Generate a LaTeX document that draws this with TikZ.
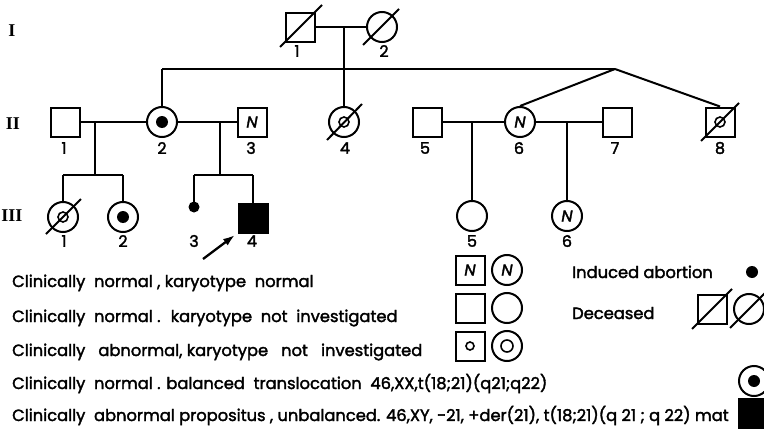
\documentclass[tikz,border=0pt]{standalone}
\usepackage{fontspec}
\setmainfont{Poppins}[FakeBold=2]
\newfontfamily\romf{Liberation Serif}
\usetikzlibrary{arrows.meta}
\begin{document}
\begin{tikzpicture}[x=1pt,y=-1pt,
  conn/.style={line width=2pt},
  sq/.style={draw, rectangle, minimum size=29pt, inner sep=0pt, line width=2pt, font=\itshape\fontsize{16}{16}\selectfont},
  ci/.style={draw, circle, minimum size=30pt, inner sep=0pt, line width=2pt, font=\itshape\fontsize{16}{16}\selectfont},
  num/.style={font=\fontsize{16}{16}\selectfont, inner sep=0pt},
  gen/.style={font=\romf\bfseries\fontsize{18}{18}\selectfont, inner sep=0pt},
  legtxt/.style={font=\fontsize{16.3}{16.3}\selectfont, anchor=base west, inner sep=0pt},
  bigdot/.style={circle, fill, minimum size=12pt, inner sep=0pt},
  smalldot/.style={circle, fill, minimum size=11pt, inner sep=0pt},
  ring/.style={circle, draw, line width=1.6pt, minimum size=10pt, inner sep=0pt},
  sring/.style={circle, draw, line width=1.6pt, minimum size=8pt, inner sep=0pt},
]
\fill[white] (0,0) rectangle (764,431);
\useasboundingbox (0,0) rectangle (764,431);

% generation labels
\node[gen] (g1) at (12,31) {I};
\node[gen] (g2) at (13,124) {II};
\node[gen] (g3) at (12,216) {III};

% generation I
\node[sq] (i1) at (300,27) {};
\node[ci] (i2) at (382,27) {};
\draw[conn] ([shift={(-20,20)}]i1.center) -- ([shift={(22,-22)}]i1.center);
\draw[conn] ([shift={(-19,18)}]i2.center) -- ([shift={(17,-18)}]i2.center);
\node[num] (i1n) at (297,51) {1};
\node[num] (i2n) at (384,51) {2};
\draw[conn] (i1.east) -- (i2.west);
\coordinate (m1) at (344,27);
\coordinate (sl) at (162,69);
\coordinate (sr) at (615,69);

% generation II
\node[sq] (ii1) at (65,122) {};
\node[ci] (ii2) at (162,122) {};
\node[bigdot] (ii2d) at (ii2.center) {};
\node[sq] (ii3) at (252,122) {N};
\node[ci] (ii4) at (344,122) {};
\node[ring] (ii4r) at (ii4.center) {};
\draw[conn] ([shift={(-17,18)}]ii4.center) -- ([shift={(18,-18)}]ii4.center);
\node[sq] (ii5) at (427,122) {};
\node[ci] (ii6) at (520,122) {N};
\node[sq] (ii7) at (617,122) {};
\node[sq] (ii8) at (720,122) {};
\node[ring] (ii8r) at (ii8.center) {};
\draw[conn] ([shift={(-19,19)}]ii8.center) -- ([shift={(19,-19)}]ii8.center);

\node[num] (ii1n) at (64,148) {1};
\node[num] (ii2n) at (162,148) {2};
\node[num] (ii3n) at (251,148) {3};
\node[num] (ii4n) at (345,148) {4};
\node[num] (ii5n) at (425,148) {5};
\node[num] (ii6n) at (519,148) {6};
\node[num] (ii7n) at (615,148) {7};
\node[num] (ii8n) at (720,148) {8};

\draw[conn] (m1) -- (ii4.north);
\draw[conn] (sl) -- (sr);
\draw[conn] (sl) -- (ii2.north);
\draw[conn] (sr) -- (ii6.north);
\draw[conn] (sr) -- (ii8.north);

\draw[conn] (ii1.east) -- (ii2.west);
\draw[conn] (ii2.east) -- (ii3.west);
\draw[conn] (ii5.east) -- (ii6.west);
\draw[conn] (ii6.east) -- (ii7.west);

\coordinate (d1) at (95,122);
\coordinate (d2) at (220,122);
\coordinate (d3) at (472,122);
\coordinate (d4) at (567,122);
\coordinate (t1) at (95,175);
\coordinate (t2) at (220,175);
\coordinate (t1l) at (63,175);
\coordinate (t1r) at (123,175);
\coordinate (t2l) at (194,175);
\coordinate (t2r) at (253,175);

% generation III
\node[ci] (iii1) at (63,217) {};
\node[ring] (iii1r) at (iii1.center) {};
\draw[conn] ([shift={(-17,17)}]iii1.center) -- ([shift={(18,-18)}]iii1.center);
\node[ci] (iii2) at (123,217) {};
\node[bigdot] (iii2d) at (iii2.center) {};
\node[smalldot] (iii3) at (194,207) {};
\node[sq, fill] (iii4) at (253,218) {};
\node[ci] (iii5) at (472,216) {};
\node[ci] (iii6) at (567,216) {N};

\draw[conn] (d1) -- (t1);
\draw[conn] (d2) -- (t2);
\draw[conn] (t1l) -- (t1r);
\draw[conn] (t2l) -- (t2r);
\draw[conn] (t1l) -- (iii1.north);
\draw[conn] (t1r) -- (iii2.north);
\draw[conn] (t2l) -- (iii3.center);
\draw[conn] (t2r) -- (iii4.north);
\draw[conn] (d3) -- (iii5.north);
\draw[conn] (d4) -- (iii6.north);

\node[num] (iii1n) at (64,241) {1};
\node[num] (iii2n) at (123,241) {2};
\node[num] (iii3n) at (194,241) {3};
\node[num] (iii4n) at (252,241) {4};
\node[num] (iii5n) at (472,241) {5};
\node[num] (iii6n) at (567,241) {6};

\coordinate (arrs) at (203,259);
\coordinate (arre) at (235,235);
\draw[line width=2.3pt, -{Latex[length=12pt,width=8pt]}] (arrs) -- (arre);

% legend text
\node[legtxt] (l1) at (12,287) {Clinically\ \ normal , karyotype\ \ normal};
\node[legtxt] (l2) at (12,322) {Clinically\ \ normal . \ karyotype\ \ not\ \ investigated};
\node[legtxt] (l3) at (12,356) {Clinically\ \ \ abnormal, karyotype\ \ \ not\ \ \ investigated};
\node[legtxt] (l4) at (12,389) {Clinically\ \ normal . balanced\ \ translocation\ \ 46,XX,t(18;21)(q21;q22)};
\node[legtxt] (l5) at (12,421) {Clinically\ \ abnormal propositus , unbalanced. 46,XY, -21, +der(21), t(18;21)(q 21 ; q 22) mat};

% legend symbols
\node[sq] (ls1) at (470,270) {N};
\node[ci] (lc1) at (507,270) {N};
\node[sq] (ls2) at (470,308) {};
\node[ci] (lc2) at (507,308) {};
\node[sq] (ls3) at (470,346) {};
\node[sring] (ls3r) at (ls3.center) {};
\node[ci] (lc3) at (507,346) {};
\node[ring, minimum size=12pt] (lc3r) at (lc3.center) {};

\node[legtxt] (lia) at (572,278) {Induced abortion};
\node[bigdot] (lid) at (752,272) {};
\node[legtxt] (lde) at (572,319) {Deceased};
\node[sq] (lds) at (712,309) {};
\draw[conn] ([shift={(-20,20)}]lds.center) -- ([shift={(20,-20)}]lds.center);
\node[ci] (ldc) at (749,309) {};
\draw[conn] ([shift={(-19,19)}]ldc.center) -- ([shift={(19,-19)}]ldc.center);

\node[ci] (lbc) at (754,381) {};
\node[bigdot] (lbd) at (lbc.center) {};
\node[sq, fill] (lbs) at (753,413) {};
\end{tikzpicture}
\end{document}
